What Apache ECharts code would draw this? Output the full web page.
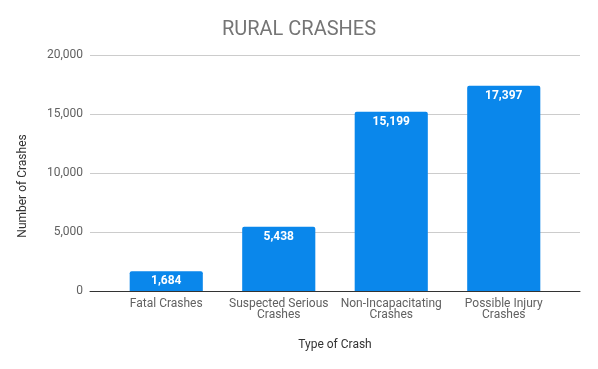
<!DOCTYPE html>
<html><head><meta charset="utf-8">
<script src="https://cdn.jsdelivr.net/npm/echarts@6/dist/echarts.min.js"></script>
<style>html,body{margin:0;padding:0;background:#fff}#c{width:598px;height:369px}</style>
</head><body><div id="c"></div>
<script>
const categories = ['Fatal Crashes', 'Suspected Serious\nCrashes', 'Non-Incapacitating\nCrashes', 'Possible Injury\nCrashes'];
const values = [1684, 5438, 15199, 17397];
const yTicks = [0, 5000, 10000, 15000, 20000];

const chart = echarts.init(document.getElementById('c'), null, {renderer: 'canvas'});
const fmt = v => v.toLocaleString('en-US');
chart.setOption({
  animation: false,
  textStyle: {fontFamily: 'Roboto'},
  title: {text: 'RURAL CRASHES', left: 'center', top: 15,
    textStyle: {fontFamily: 'Roboto', fontSize: 20, fontWeight: 'normal', color: '#757575'}},
  grid: [
    {left: 90, right: 18, top: 55, bottom: 78},
    {left: 110, right: 38, top: 55, bottom: 78}
  ],
  xAxis: [
    {type: 'category', gridIndex: 0, data: ['a'], axisTick: {show: false}, axisLabel: {show: false},
     axisLine: {show: true, lineStyle: {color: '#333', width: 1}}, z: 5},
    {type: 'category', gridIndex: 1, data: categories, axisTick: {show: false}, axisLine: {show: false},
     axisLabel: {color: '#616161', fontSize: 12, margin: 7, lineHeight: 11, interval: 0}}
  ],
  yAxis: [
    {type: 'value', gridIndex: 0, min: yTicks[0], max: yTicks[yTicks.length - 1], interval: 5000,
     axisLine: {show: false}, axisTick: {show: false},
     axisLabel: {color: '#616161', fontSize: 12, margin: 7, formatter: fmt},
     splitLine: {lineStyle: {color: '#cccccc', width: 1}}},
    {type: 'value', gridIndex: 1, min: yTicks[0], max: yTicks[yTicks.length - 1], interval: 5000,
     show: false, splitLine: {show: false}}
  ],
  graphic: [
    {type: 'text', x: 335, y: 345, style: {text: 'Type of Crash', fontFamily: 'Roboto', fontSize: 12, fill: '#333', align: 'center', verticalAlign: 'middle'}},
    {type: 'text', x: 17, y: 186, rotation: Math.PI / 2, style: {text: 'Number of Crashes', fontFamily: 'Roboto', fontSize: 12, fill: '#333', align: 'center', verticalAlign: 'top'}}
  ],
  series: [{
    type: 'bar', xAxisIndex: 1, yAxisIndex: 1, data: values, barCategoryGap: '35%',
    itemStyle: {color: '#0A87EB', borderRadius: [2, 2, 0, 0]},
    label: {show: true, position: 'insideTop', distance: 4, color: '#fff', fontWeight: 'bold', fontSize: 12,
      formatter: p => fmt(p.value)}
  }]
});
</script></body></html>
